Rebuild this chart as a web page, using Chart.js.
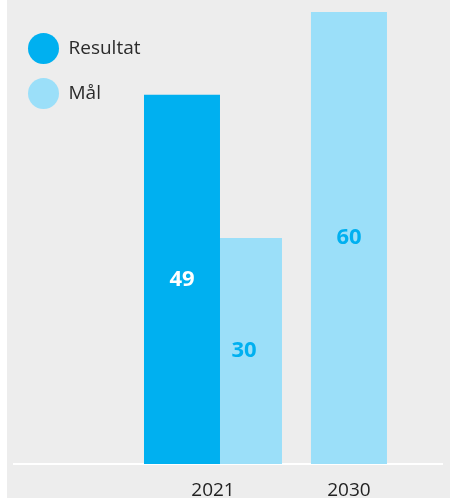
<!DOCTYPE html>
<html>
<head>
<meta charset="utf-8">
<script src="https://cdn.jsdelivr.net/npm/chart.js@4/dist/chart.umd.min.js"></script>
<style>
  html, body { margin: 0; padding: 0; background: #fff; }
  #wrap { position: absolute; left: 7px; top: 0; width: 443px; height: 498px; background: #ededed; }
</style>
</head>
<body>
<div id="wrap"><canvas id="goalChart" width="443" height="498"></canvas></div>
<script>
const years = ['2021', '2030'];
const resultat = [49, null];
const maal = [30, 60];
const seriesNames = ['Resultat', 'Mål'];

const DARK = '#00b0f0';
const LIGHT = '#9bdff9';

// value labels in the middle of each bar
const barLabels = {
  id: 'barLabels',
  afterDatasetsDraw(chart) {
    const ctx = chart.ctx;
    ctx.save();
    ctx.font = 'bold 22px "Open Sans"';
    ctx.textAlign = 'center';
    ctx.textBaseline = 'middle';
    chart.data.datasets.forEach((ds, i) => {
      chart.getDatasetMeta(i).data.forEach((bar, j) => {
        const v = ds.data[j];
        if (v == null) return;
        ctx.fillStyle = i === 0 ? '#ffffff' : DARK;
        ctx.fillText(String(v), bar.x, (bar.y + bar.base) / 2);
      });
    });
    ctx.restore();
  }
};

new Chart(document.getElementById('goalChart').getContext('2d'), {
  type: 'bar',
  data: {
    labels: years,
    datasets: [
      { label: seriesNames[0], data: resultat, backgroundColor: DARK },
      { label: seriesNames[1], data: maal, backgroundColor: LIGHT }
    ]
  },
  options: {
    responsive: false,
    animation: false,
    skipNull: true,
    categoryPercentage: 0.9118,
    barPercentage: 1.2258,
    maxBarThickness: 76,
    layout: { padding: { left: 7, right: 7.5, top: 12, bottom: 0 } },
    plugins: {
      tooltip: { enabled: false },
      legend: {
        position: 'chartArea',
        align: 'start',
        // empty title only used as top spacing
        title: { display: true, text: ' ', font: { size: 1, lineHeight: 1 }, padding: { top: 18, bottom: 0 } },
        labels: {
          boxWidth: 31,
          boxHeight: 31,
          useBorderRadius: true,
          borderRadius: 15.5,
          padding: 14,
          color: '#2b2b2b',
          font: { family: '"Open Sans"', size: 19 }
        }
      }
    },
    scales: {
      x: {
        type: 'linear',
        offset: false,
        min: 2007.83,
        max: 2036.19,
        grid: { display: false },
        border: { display: true, color: '#ffffff', width: 2 },
        afterBuildTicks: s => { s.ticks = years.map(y => ({ value: +y })); },
        afterFit: s => { s.height = 34; },
        ticks: {
          padding: 7,
          color: '#222222',
          font: { family: '"Open Sans"', size: 19 },
          callback: v => String(v)
        }
      },
      y: {
        display: false,
        min: 0,
        max: 60
      }
    }
  },
  plugins: [barLabels]
});
</script>
</body>
</html>
